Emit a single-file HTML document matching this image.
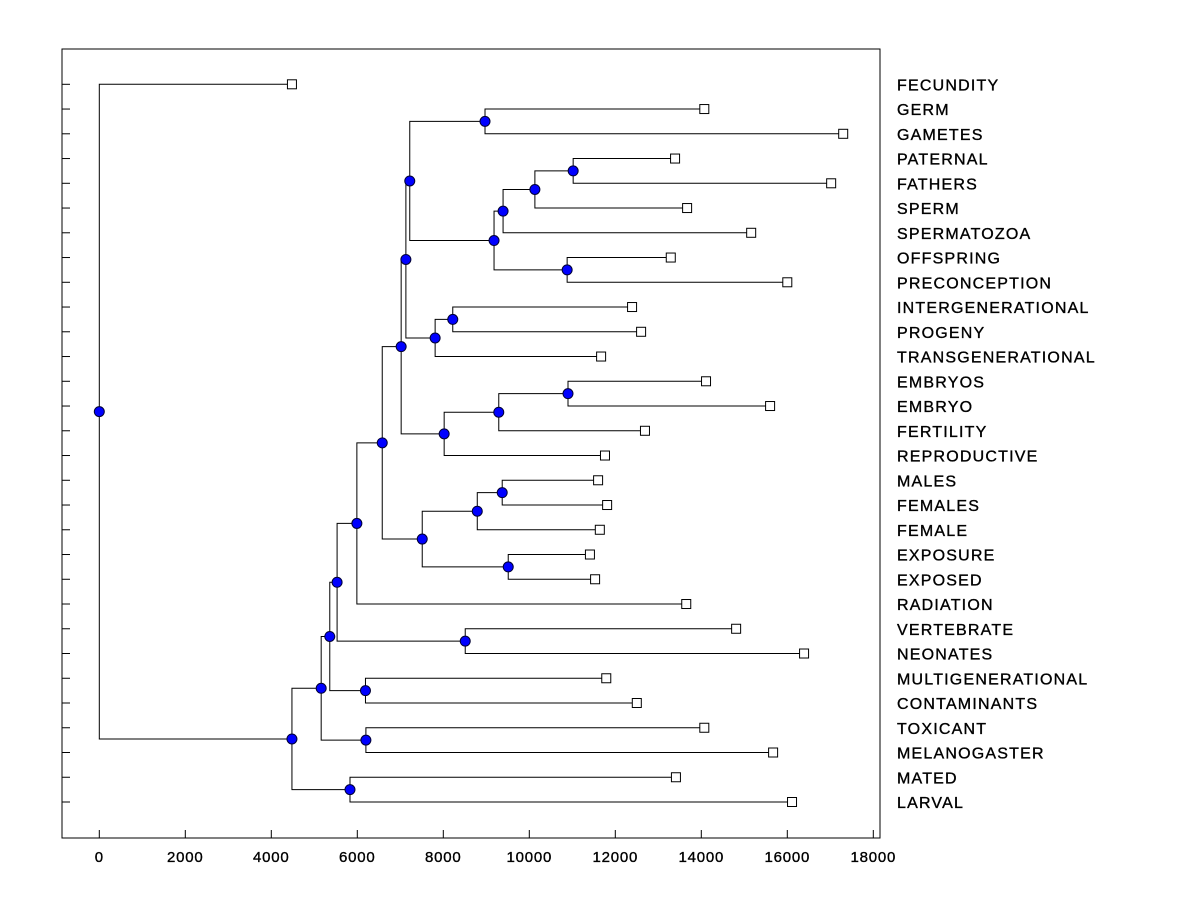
<!DOCTYPE html>
<html><head><meta charset="utf-8"><style>
body{margin:0;background:#fff;}
svg text{font-family:"Liberation Sans",Arial,sans-serif;}
</style></head><body>
<svg id="chart" width="1200" height="900" xmlns="http://www.w3.org/2000/svg">
<rect x="0" y="0" width="1200" height="900" fill="#fff"/>
<rect x="62" y="49" width="818" height="789" fill="none" stroke="#000" stroke-width="1"/>
<g id="xaxis"></g>
<g id="yaxis"></g>
<g id="links"></g>
<g id="marks"></g>
<g id="labels"></g>
</svg>
<script>
const leafNames = ["FECUNDITY","GERM","GAMETES","PATERNAL","FATHERS","SPERM","SPERMATOZOA","OFFSPRING","PRECONCEPTION","INTERGENERATIONAL","PROGENY","TRANSGENERATIONAL","EMBRYOS","EMBRYO","FERTILITY","REPRODUCTIVE","MALES","FEMALES","FEMALE","EXPOSURE","EXPOSED","RADIATION","VERTEBRATE","NEONATES","MULTIGENERATIONAL","CONTAMINANTS","TOXICANT","MELANOGASTER","MATED","LARVAL"];
const leafValues = [4480,14070,17300,13390,17020,13670,15160,13290,16000,12390,12600,11670,14110,15600,12690,11760,11600,11810,11640,11410,11530,13650,14810,16390,11790,12500,14070,15670,13410,16110];
const mergeLeft = [3,30,31,7,32,1,35,9,37,36,12,40,41,39,16,44,19,45,43,48,22,49,24,51,26,53,28,55,0];
const mergeRight = [4,5,6,8,33,2,34,10,11,38,13,14,15,42,17,18,20,46,47,21,23,50,25,52,27,54,29,56,57];
const mergeHeights = [11020,10130,9390,10880,9180,8970,7220,8220,7810,7130,10900,9290,8020,7020,9370,8790,9510,7510,6580,5990,8510,5530,6190,5360,6200,5160,5830,4480,0];
const xTicks = [0,2000,4000,6000,8000,10000,12000,14000,16000,18000];

const NS="http://www.w3.org/2000/svg";
const X0=99.3, XS=0.043;
function xs(v){return X0+v*XS;}
function ys(i){return 84.3+i*(802-84.3)/29;}
function mk(tag,attrs,parent){const e=document.createElementNS(NS,tag);for(const k in attrs)e.setAttribute(k,attrs[k]);parent.appendChild(e);return e;}
const gx=document.getElementById('xaxis'),gy=document.getElementById('yaxis'),gl=document.getElementById('links'),gm=document.getElementById('marks'),gt=document.getElementById('labels');

xTicks.forEach(t=>{
  const l=mk('line',{x1:xs(t),x2:xs(t),y1:838,y2:830,stroke:'#000'},gx);
  
  
  const tx=mk('text',{x:xs(t),y:862,'text-anchor':'middle','font-size':'15','letter-spacing':'0.8',stroke:'#000','stroke-width':'0.35'},gx);
  tx.textContent=String(t);
  
  
});
leafNames.forEach((n,i)=>{
  const l=mk('line',{x1:62,x2:70,y1:ys(i),y2:ys(i),stroke:'#000'},gy);
  
  
  const tx=mk('text',{x:897,y:ys(i)+6,'font-size':'16','letter-spacing':'1.2',stroke:'#000','stroke-width':'0.35'},gt);
  tx.textContent=n;
  
  
});

const nx=leafValues.map(v=>xs(v)), ny=leafNames.map((_,i)=>ys(i));
mergeHeights.forEach((h,k)=>{
  const a=mergeLeft[k], b=mergeRight[k], x=xs(h);
  nx.push(x); ny.push((ny[a]+ny[b])/2);
  const p=mk('path',{d:`M${nx[a]},${ny[a]}H${x}V${ny[b]}H${nx[b]}`,fill:'none',stroke:'#000','stroke-width':'1'},gl);
  
  
});
leafValues.forEach((v,i)=>{
  const r=mk('rect',{x:nx[i]-4.5,y:ny[i]-4.5,width:9,height:9,fill:'#fff',stroke:'#000'},gm);
  
  
});
mergeHeights.forEach((h,k)=>{
  const i=leafValues.length+k;
  const c=mk('circle',{cx:nx[i],cy:ny[i],r:5,fill:'#0000ff',stroke:'#000033','stroke-width':'1'},gm);
  
  
});
</script>
</body></html>
